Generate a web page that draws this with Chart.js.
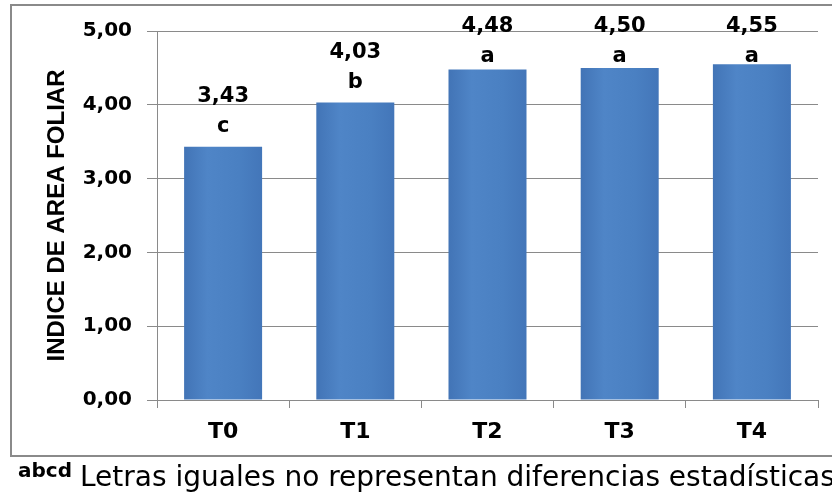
<!DOCTYPE html>
<html>
<head>
<meta charset="utf-8">
<script src="https://cdn.jsdelivr.net/npm/chart.js@4/dist/chart.umd.min.js"></script>
<style>
  html, body { margin: 0; padding: 0; background: #fff; width: 832px; height: 495px; overflow: hidden; }
  #frame { position: absolute; left: 10px; top: 4px; width: 822px; height: 453px; box-sizing: border-box; border: 2px solid #8a8a8a; border-right: none; }
  #wrap { position: absolute; left: 0; top: 0; width: 832px; height: 460px; }
  #note { position: absolute; left: 18px; top: 458px; white-space: nowrap; font-family: "DejaVu Sans", "Liberation Sans", sans-serif; font-size: 28px; color: #000; }
  #note sup { font-size: 20px; font-weight: bold; vertical-align: 9px; margin-right: 8px; }
</style>
</head>
<body>
<div id="frame"></div>
<div id="wrap"><canvas id="chart" width="832" height="460"></canvas></div>
<div id="note"><sup>abcd</sup>Letras iguales no representan diferencias estadísticas</div>
<script>
// Treatments and their leaf area index
const categories = ['T0', 'T1', 'T2', 'T3', 'T4'];
const indiceAreaFoliar = [3.43, 4.03, 4.48, 4.50, 4.55];
// Mean-separation letters shown under each value
const letras = ['c', 'b', 'a', 'a', 'a'];
const yMin = 0;
const yMax = 5;
const yStep = 1;

const fmt = v => v.toFixed(2).replace('.', ',');
const GRID = '#8a8a8a';
const NUM_FONT = '"DejaVu Sans", "Liberation Sans", sans-serif';
const BAR_PCT = 0.59;

// Soft horizontal shading across each bar
function barFill(ctx) {
  const chart = ctx.chart;
  const xs = chart.scales && chart.scales.x;
  if (!xs || ctx.dataIndex == null || !chart.chartArea) return '#4a7ec0';
  const cx = xs.getPixelForValue(ctx.dataIndex);
  const w = xs.width / categories.length * BAR_PCT;
  const g = chart.ctx.createLinearGradient(cx - w / 2, 0, cx + w / 2, 0);
  g.addColorStop(0, '#4274b6');
  g.addColorStop(0.3, '#4f85c7');
  g.addColorStop(0.7, '#4a80c2');
  g.addColorStop(1, '#4376b9');
  return g;
}

// Value + letter above every bar
const barLabels = {
  id: 'barLabels',
  afterDatasetsDraw(chart) {
    const { ctx, chartArea } = chart;
    const meta = chart.getDatasetMeta(0);
    ctx.save();
    ctx.fillStyle = '#000';
    ctx.textAlign = 'center';
    ctx.textBaseline = 'alphabetic';
    ctx.font = 'bold 21px ' + NUM_FONT;
    meta.data.forEach((bar, i) => {
      const valueBase = Math.max(bar.y - 45, chartArea.top + 1);
      ctx.fillText(fmt(indiceAreaFoliar[i]), bar.x, valueBase);
      ctx.fillText(letras[i], bar.x, valueBase + 30);
    });
    ctx.restore();
  }
};

new Chart(document.getElementById('chart'), {
  type: 'bar',
  data: {
    labels: categories,
    datasets: [{
      data: indiceAreaFoliar,
      backgroundColor: barFill,
      borderWidth: 0,
      barPercentage: BAR_PCT,
      categoryPercentage: 1
    }]
  },
  options: {
    responsive: false,
    animation: false,
    layout: { padding: { left: 0, top: 31, right: 14, bottom: 0 } },
    plugins: { legend: { display: false }, tooltip: { enabled: false } },
    scales: {
      x: {
        offset: true,
        grid: { display: true, drawOnChartArea: false, drawTicks: true, tickLength: 8, color: GRID, offset: true },
        border: { display: true, color: GRID, width: 1 },
        ticks: { color: '#000', padding: 11, font: { family: NUM_FONT, size: 22, weight: 'bold' } },
        afterFit: s => { s.height = 60; }
      },
      y: {
        min: yMin,
        max: yMax,
        grid: { color: GRID, lineWidth: 1, tickLength: 10, drawTicks: true },
        border: { display: true, color: GRID, width: 1 },
        ticks: {
          stepSize: yStep,
          color: '#000',
          padding: 15,
          font: { family: NUM_FONT, size: 20, weight: 'bold' },
          callback: v => fmt(v)
        },
        title: {
          display: true,
          text: 'INDICE DE AREA FOLIAR',
          color: '#000',
          font: { family: '"Liberation Sans", Arial, sans-serif', size: 24, weight: 'bold' },
          padding: { top: 43, bottom: 0 }
        },
        afterFit: s => { s.width = 157; }
      }
    }
  },
  plugins: [barLabels]
});
</script>
</body>
</html>
